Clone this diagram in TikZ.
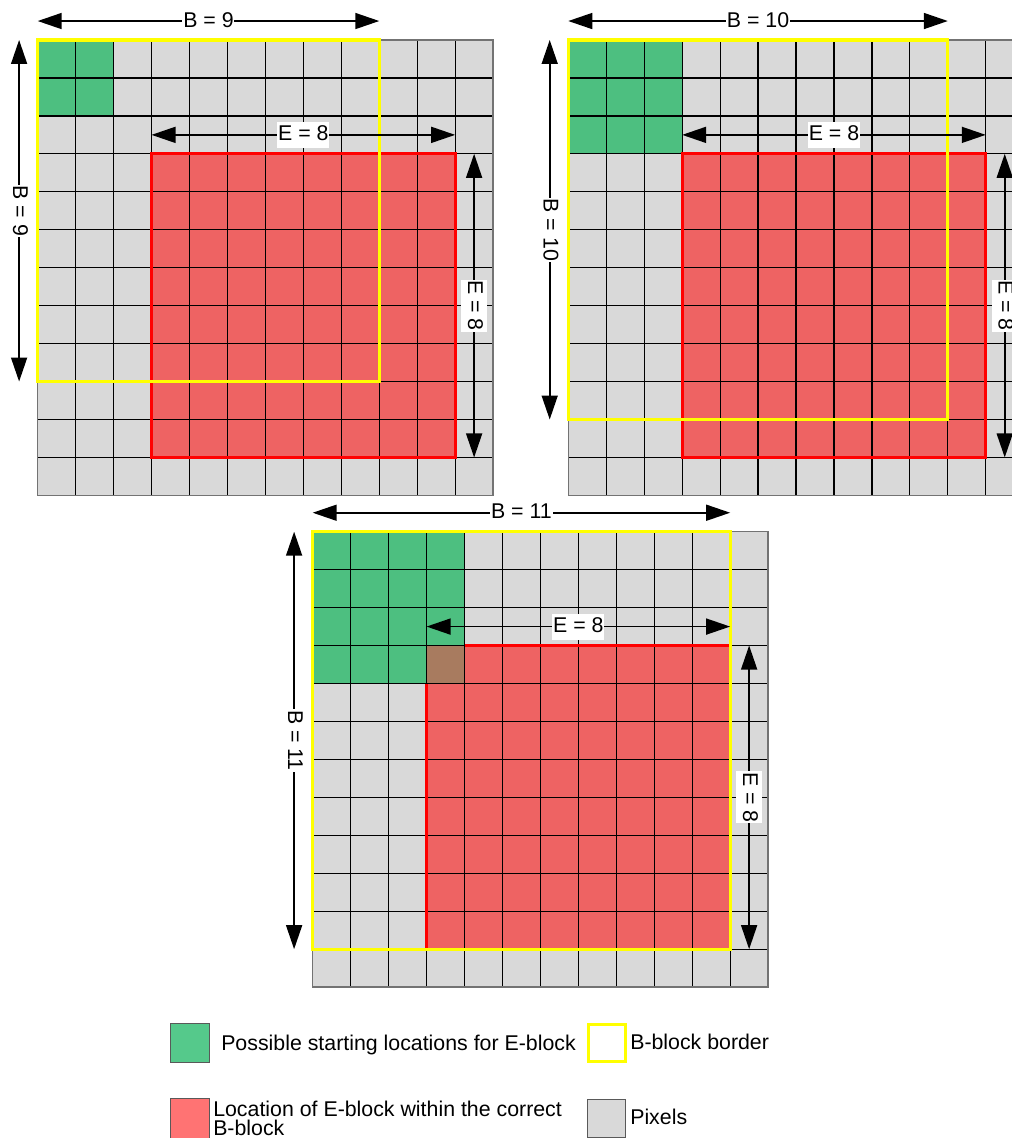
\documentclass[tikz,border=0pt]{standalone}
\usepackage{fontspec}
\setmainfont{Liberation Sans}
\usetikzlibrary{arrows.meta}
\definecolor{pixgray}{HTML}{D9D9D9}
\definecolor{egreen}{HTML}{4DBF80}
\definecolor{legreen}{HTML}{55C98B}
\definecolor{ered}{HTML}{EE6363}
\definecolor{lered}{HTML}{FF7373}
\definecolor{overlapc}{HTML}{A87B5F}
\definecolor{byellow}{HTML}{FFFF00}
\definecolor{bred}{HTML}{FF0000}
\begin{document}
\begin{tikzpicture}[x=0.75pt,y=-0.75pt,
  gridline/.style={draw=black, line width=0.9pt},
  outerline/.style={draw=black!55, line width=1pt},
  redborder/.style={draw=bred, line width=2.3pt},
  yborder/.style={draw=byellow, line width=2.3pt},
  dimarrow/.style={line width=1.2pt, {Triangle[length=18pt,width=12pt]}-{Triangle[length=18pt,width=12pt]}},
  dimlabel/.style={fill=white, inner xsep=0.6pt, inner ysep=0pt, text height=14.25pt, text depth=5.25pt, font=\fontsize{16}{19}\selectfont},
  legtext/.style={anchor=base west, inner sep=0pt, font=\fontsize{16}{19}\selectfont},
  legbox/.style={draw=black!65, line width=0.8pt}
]
\useasboundingbox (0,0) rectangle (1012,1138);
\clip (0,0) rectangle (1012,1138);
\foreach \gx/\gy/\n/\B in {37.7/40/2/9, 568.3/40/3/10, 312.7/531.7/4/11}{
  \begin{scope}[shift={(\gx,\gy)}, x=28.4625pt, y=-28.4625pt]
    \fill[pixgray] (0,0) rectangle (12,12);
    \fill[egreen] (0,0) rectangle (\n,\n);
    \fill[ered] (3,3) rectangle (11,11);
    \ifnum\n>3 \fill[overlapc] (3,3) rectangle (\n,\n); \fi
    \foreach \k in {1,...,11}{
      \draw[gridline] (\k,0) -- (\k,12);
      \draw[gridline] (0,\k) -- (12,\k);
    }
    \draw[outerline] (0,0) rectangle (12,12);
    \ifnum\n>3
      \draw[redborder] (\n,3) -- (11,3) -- (11,11) -- (3,11) -- (3,\n);
    \else
      \draw[redborder] (3,3) rectangle (11,11);
    \fi
    \draw[yborder] (0,0) rectangle (\B,\B);
    \coordinate (bhl\B) at (0,-0.5);
    \coordinate (bhr\B) at (\B,-0.5);
    \coordinate (bvt\B) at (-0.49,0);
    \coordinate (bvb\B) at (-0.49,\B);
    \coordinate (ehl\B) at (3,2.5);
    \coordinate (ehr\B) at (11,2.5);
    \coordinate (evt\B) at (11.5,3);
    \coordinate (evb\B) at (11.5,11);
    \draw[dimarrow] (bhl\B) -- node[dimlabel] (lbh\B) {B = \B} (bhr\B);
    \draw[dimarrow] (bvt\B) -- node[dimlabel, rotate=-90] (lbv\B) {B = \B} (bvb\B);
    \draw[dimarrow] (ehl\B) -- node[dimlabel] (leh\B) {E = 8} (ehr\B);
    \draw[dimarrow] (evt\B) -- node[dimlabel, rotate=-90] (lev\B) {E = 8} (evb\B);
  \end{scope}
}
% legend
\draw[legbox, fill=legreen] (170.7,1023.3) rectangle (209.3,1062.3);
\node[legtext] (lg1) at (221,1050) {Possible starting locations for E-block};
\draw[yborder, fill=white] (588.3,1024.3) rectangle (625.7,1061.3);
\node[legtext] (lg2) at (630,1049.3) {B-block border};
\draw[legbox, fill=lered] (170.7,1098.3) rectangle (209.3,1140);
\node[legtext] (lg3) at (213,1116) {Location of E-block within the correct};
\node[legtext] (lg4) at (213,1135.5) {B-block};
\draw[legbox, fill=pixgray] (587.3,1099.3) rectangle (625.7,1137.7);
\node[legtext] (lg5) at (630,1124) {Pixels};
\end{tikzpicture}
\end{document}
